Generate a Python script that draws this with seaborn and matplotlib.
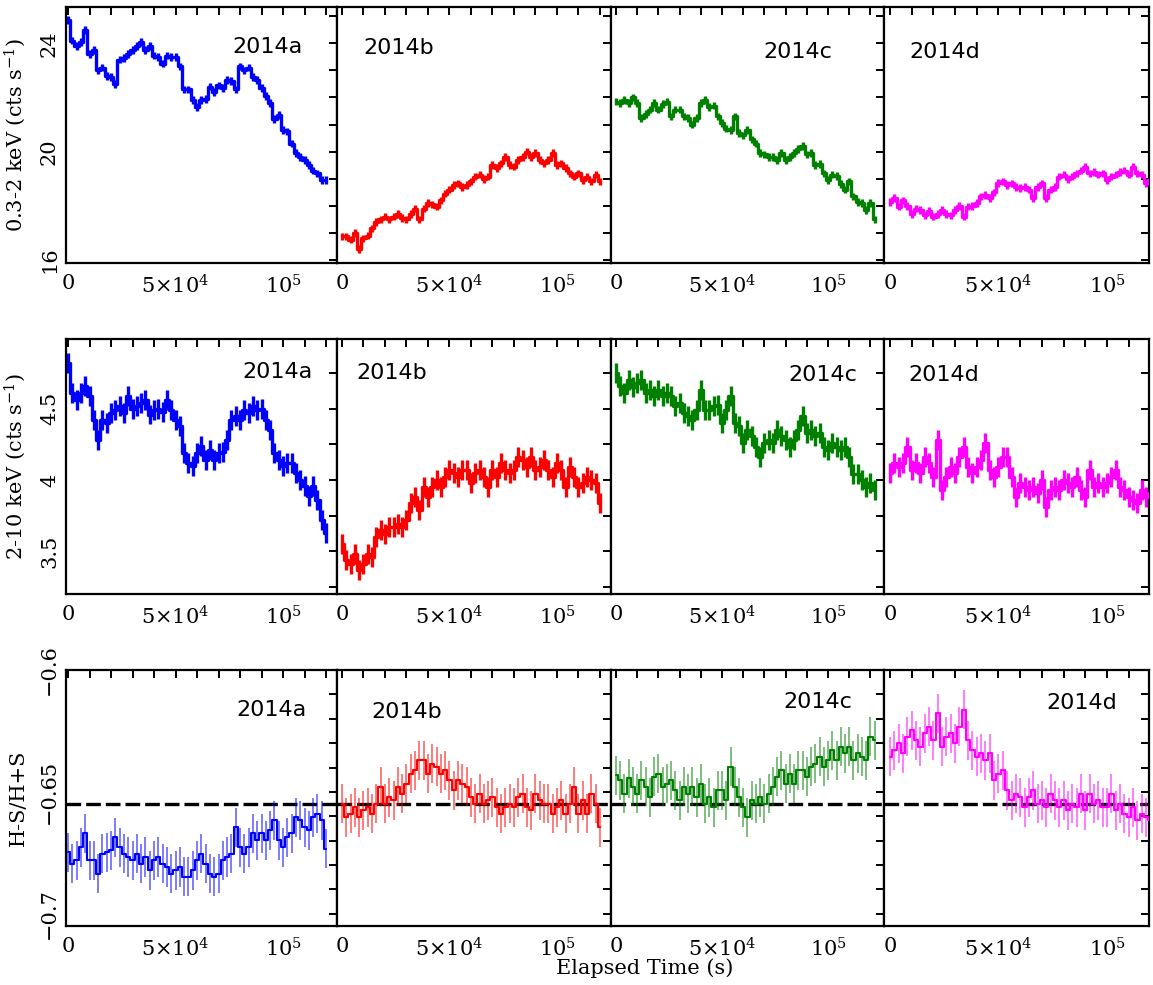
import numpy as np
import pandas as pd
import matplotlib
matplotlib.use("Agg")
import matplotlib.pyplot as plt
import seaborn as sns
from matplotlib.ticker import FixedLocator, MultipleLocator, FuncFormatter

# ---------------------------------------------------------------- data
TBIN = 2000.0  # light-curve bin width (s)

epochs = ["2014a", "2014b", "2014c", "2014d"]
colors = ["#0000ff", "#ff0000", "#008000", "#ff00ff"]

# 0.3-2 keV count rates (cts/s)
soft_a = [24.86, 24.1, 23.9, 24.05, 24.5, 23.6, 23.75, 23.0, 23.1, 22.8,
          22.75, 22.5, 23.4, 23.45, 23.6, 23.75, 23.9, 24.05, 23.75, 23.9,
          23.55, 23.5, 23.25, 23.55, 23.5, 23.5, 23.15, 22.3, 22.3, 21.9,
          21.65, 21.9, 21.95, 22.4, 22.2, 22.45, 22.35, 22.65, 22.6, 22.3,
          23.15, 23.0, 23.1, 22.75, 22.65, 22.35, 22.05, 21.8, 21.2, 21.35,
          20.8, 20.75, 20.3, 19.95, 19.8, 19.7, 19.5, 19.3, 19.2, 18.95,
          18.95]
soft_b = [16.87, 16.87, 16.75, 17.0, 16.4, 16.8, 16.9, 17.17, 17.4, 17.5,
          17.6, 17.5, 17.6, 17.7, 17.55, 17.5, 17.7, 17.9, 17.5, 17.9,
          18.1, 18.05, 17.97, 18.2, 18.45, 18.6, 18.77, 18.83, 18.7, 18.77,
          18.9, 19.08, 19.15, 19.0, 19.08, 19.5, 19.4, 19.57, 19.8, 19.5,
          19.45, 19.7, 19.8, 20.0, 19.8, 19.95, 19.7, 19.57, 19.7, 19.95,
          19.5, 19.57, 19.4, 19.2, 19.08, 19.2, 18.95, 19.08, 18.9, 19.15,
          18.9]
soft_c = [21.85, 21.8, 21.9, 21.8, 22.0, 21.8, 21.25, 21.4, 21.55, 21.8,
          21.55, 21.75, 21.85, 21.3, 21.55, 21.55, 21.3, 21.25, 21.0, 21.25,
          21.8, 21.9, 21.65, 21.7, 21.3, 21.05, 20.85, 20.8, 21.3, 20.7,
          20.6, 20.8, 20.45, 20.3, 19.95, 19.9, 19.8, 19.8, 19.7, 19.95,
          19.7, 19.8, 19.95, 20.1, 20.2, 19.9, 19.95, 19.5, 19.55, 19.2,
          18.95, 19.15, 19.1, 18.8, 18.6, 18.9, 18.35, 18.15, 18.1, 17.85,
          18.1, 17.5]
soft_d = [18.15, 18.3, 17.97, 18.2, 18.0, 17.7, 17.9, 17.85, 17.65, 17.8,
          17.6, 17.7, 17.85, 17.7, 17.65, 17.85, 18.0, 17.6, 17.97, 18.0,
          18.1, 18.35, 18.4, 18.3, 18.5, 18.85, 18.9, 18.77, 18.83, 18.7,
          18.65, 18.7, 18.6, 18.3, 18.7, 18.83, 18.3, 18.6, 18.7, 19.08,
          19.15, 19.0, 19.08, 19.2, 19.3, 19.45, 19.2, 19.25, 19.15, 19.2,
          18.95, 19.08, 19.15, 19.25, 19.3, 19.15, 19.45, 19.2, 19.15, 18.85,
          18.95]

# 2-10 keV count rates (cts/s)
hard_a = [4.82, 4.61, 4.56, 4.61, 4.66, 4.59, 4.42, 4.28, 4.42, 4.40,
          4.47, 4.49, 4.52, 4.47, 4.59, 4.50, 4.52, 4.54, 4.56, 4.46,
          4.49, 4.50, 4.48, 4.56, 4.49, 4.42, 4.38, 4.19, 4.12, 4.10,
          4.19, 4.24, 4.14, 4.21, 4.14, 4.19, 4.20, 4.28, 4.42, 4.45,
          4.42, 4.49, 4.47, 4.52, 4.49, 4.50, 4.42, 4.35, 4.19, 4.14,
          4.10, 4.12, 4.12, 4.05, 4.00, 3.96, 3.89, 3.96, 3.86, 3.72,
          3.63]
hard_b = [3.55, 3.44, 3.41, 3.48, 3.37, 3.41, 3.48, 3.46, 3.60, 3.65,
          3.62, 3.67, 3.67, 3.69, 3.67, 3.72, 3.84, 3.88, 3.79, 3.95,
          3.88, 3.95, 4.00, 3.95, 4.02, 4.07, 4.05, 4.02, 4.07, 4.07,
          3.98, 4.05, 4.07, 4.02, 3.95, 4.07, 4.02, 4.12, 4.07, 4.05,
          4.07, 4.16, 4.14, 4.09, 4.16, 4.07, 4.09, 4.14, 4.07, 4.02,
          4.12, 4.07, 3.95, 4.09, 4.02, 3.95, 3.98, 4.02, 4.00, 3.98,
          3.84]
hard_c = [4.75, 4.66, 4.61, 4.70, 4.65, 4.68, 4.70, 4.61, 4.63, 4.59,
          4.63, 4.59, 4.61, 4.59, 4.52, 4.54, 4.47, 4.45, 4.42, 4.49,
          4.63, 4.49, 4.49, 4.52, 4.53, 4.40, 4.49, 4.59, 4.40, 4.38,
          4.26, 4.35, 4.31, 4.23, 4.16, 4.26, 4.28, 4.26, 4.35, 4.31,
          4.28, 4.23, 4.28, 4.35, 4.45, 4.33, 4.35, 4.31, 4.33, 4.23,
          4.21, 4.26, 4.23, 4.21, 4.23, 4.16, 4.04, 4.04, 4.00, 3.95,
          3.98, 3.93]
hard_d = [4.05, 4.12, 4.09, 4.12, 4.23, 4.07, 4.12, 4.05, 4.16, 4.12,
          4.02, 4.28, 3.93, 4.02, 4.09, 4.05, 4.16, 4.23, 4.09, 4.05,
          4.09, 4.14, 4.26, 4.07, 4.02, 4.09, 4.16, 4.16, 4.02, 3.88,
          3.98, 3.95, 3.93, 3.95, 3.91, 4.00, 3.81, 3.93, 3.95, 3.93,
          4.00, 3.98, 3.95, 4.02, 3.93, 3.88, 4.07, 3.95, 3.98, 3.95,
          3.98, 4.02, 4.07, 3.95, 3.93, 3.88, 3.86, 3.84, 3.93, 3.88,
          3.91]

# hardness ratio (H-S)/(H+S)
hr_a = [-0.6747, -0.6795, -0.678, -0.6726, -0.667, -0.678, -0.678, -0.6836, -0.6753, -0.6747,
        -0.674, -0.6685, -0.6726, -0.6753, -0.6767, -0.678, -0.6753, -0.6795, -0.6767, -0.6822,
        -0.678, -0.6767, -0.6795, -0.6808, -0.6836, -0.6822, -0.6808, -0.6849, -0.6849, -0.6822,
        -0.678, -0.6753, -0.6795, -0.6836, -0.6849, -0.6836, -0.678, -0.6767, -0.6753, -0.6644,
        -0.6726, -0.6753, -0.6726, -0.667, -0.6699, -0.667, -0.6699, -0.6658, -0.6616, -0.6699,
        -0.6726, -0.6685, -0.667, -0.6603, -0.6616, -0.6644, -0.6658, -0.6603, -0.6589, -0.6616,
        -0.6733]
hr_b = [-0.6548, -0.6603, -0.6589, -0.6562, -0.6603, -0.6575, -0.6562, -0.6589, -0.6548, -0.6479,
        -0.6548, -0.6521, -0.6534, -0.6479, -0.6507, -0.6466, -0.6425, -0.6411, -0.637, -0.637,
        -0.6425, -0.6384, -0.6397, -0.6425, -0.6411, -0.6452, -0.6493, -0.6452, -0.6466, -0.6479,
        -0.6521, -0.6548, -0.6507, -0.6548, -0.6534, -0.6521, -0.6562, -0.6589, -0.6562, -0.6548,
        -0.6562, -0.6521, -0.6507, -0.6562, -0.6575, -0.6507, -0.6534, -0.6548, -0.6548, -0.6589,
        -0.6562, -0.6534, -0.6589, -0.6548, -0.6479, -0.6589, -0.6534, -0.6589, -0.6507, -0.6548,
        -0.6644]
hr_c = [-0.6432, -0.6452, -0.6507, -0.6445, -0.6479, -0.6507, -0.6452, -0.6479, -0.6521, -0.6438,
        -0.6425, -0.6479, -0.6466, -0.6452, -0.6493, -0.6534, -0.6479, -0.6507, -0.6479, -0.6521,
        -0.6466, -0.6548, -0.6521, -0.6562, -0.6493, -0.6493, -0.6534, -0.6397, -0.6479, -0.6521,
        -0.6562, -0.6603, -0.6534, -0.6548, -0.6521, -0.6548, -0.6507, -0.6479, -0.6438, -0.6411,
        -0.6466, -0.6425, -0.6466, -0.6411, -0.6411, -0.6438, -0.6397, -0.6384, -0.6356, -0.6397,
        -0.637, -0.6329, -0.637, -0.6315, -0.6342, -0.6315, -0.637, -0.6342, -0.6356, -0.637,
        -0.6274, -0.6288]
hr_d = [-0.6356, -0.6329, -0.6301, -0.6342, -0.6274, -0.6247, -0.6288, -0.6315, -0.626, -0.6233,
        -0.6288, -0.6178, -0.6315, -0.6274, -0.626, -0.6301, -0.6233, -0.6164, -0.6288, -0.6329,
        -0.6356, -0.6342, -0.637, -0.6342, -0.6452, -0.6425, -0.6411, -0.6493, -0.6534, -0.6507,
        -0.6521, -0.6562, -0.6521, -0.6493, -0.6548, -0.6534, -0.6562, -0.6507, -0.6534, -0.6562,
        -0.6534, -0.6575, -0.6548, -0.6562, -0.6507, -0.6575, -0.6507, -0.6548, -0.6534, -0.6562,
        -0.6562, -0.6507, -0.6575, -0.6548, -0.6589, -0.6603, -0.6562, -0.6616, -0.6589, -0.6603,
        -0.6616]

err_soft = 0.14
err_hard = 0.07
err_hr = 0.008
hr_mean = -0.655

x_ticks = [0, 5e4, 1e5]
x_ticklabels = ["0", r"$5{\times}10^{4}$", r"$10^{5}$"]

rows = [
    dict(series=[soft_a, soft_b, soft_c, soft_d], err=err_soft,
         ylim=(15.89, 25.33), major=[16, 20, 24], minor=1.0,
         ylabel=r"0.3-2 keV (cts s$^{-1}$)", hr=False),
    dict(series=[hard_a, hard_b, hard_c, hard_d], err=err_hard,
         ylim=(3.2, 4.99), major=[3.5, 4.0, 4.5], minor=0.25,
         ylabel=r"2-10 keV (cts s$^{-1}$)", hr=False),
    dict(series=[hr_a, hr_b, hr_c, hr_d], err=err_hr,
         ylim=(-0.705, -0.6), major=[-0.7, -0.65, -0.6], minor=0.01,
         ylabel="H-S/H+S", hr=True),
]

# ---------------------------------------------------------------- layout
sns.set_theme(style="white")
plt.rcParams["font.family"] = ["DejaVu Serif"]
plt.rcParams["mathtext.fontset"] = "dejavuserif"
for key in ("text.color", "axes.labelcolor", "xtick.color", "ytick.color"):
    plt.rcParams[key] = "black"

W, H = 1153, 985
fig = plt.figure(figsize=(W / 100, H / 100), dpi=100)

# column (left px, right px, xmin, xmax) and row (top px, bottom px)
cols_geom = [(66, 337, -930, 125100), (337, 610.5, -2300, 124900),
             (610.5, 884, -2600, 126400), (884, 1149, -2760, 119350)]
rows_geom = [(7.3, 263), (339, 594), (670, 926)]

# epoch label centres (px) per row/column
label_pos = [
    [(267, 47), (399, 48), (798, 52), (945, 52)],
    [(277, 372), (392, 373), (823, 375), (944, 375)],
    [(271, 710), (407, 712), (818, 702), (1082, 703)],
]

for r, (row, (top, bot)) in enumerate(zip(rows, rows_geom)):
    for c, (l, rgt, x0, x1) in enumerate(cols_geom):
        ax = fig.add_axes([l / W, 1 - bot / H, (rgt - l) / W, (bot - top) / H])
        vals = np.asarray(row["series"][c], dtype=float)
        t = np.arange(len(vals)) * TBIN
        df = pd.DataFrame({"time": t, "value": vals})
        col = colors[c]

        if row["hr"]:
            ax.axhline(hr_mean, color="black", lw=2.4, dashes=(4.4, 1.5), zorder=1)
            ax.errorbar(df["time"], df["value"], yerr=row["err"], fmt="none",
                        ecolor=col, elinewidth=1.2, alpha=0.6, zorder=2)
            sns.lineplot(data=df, x="time", y="value", ax=ax, color=col,
                         drawstyle="steps-mid", lw=1.5, errorbar=None, zorder=3)
        else:
            ax.errorbar(df["time"], df["value"], yerr=row["err"], fmt="none",
                        ecolor=col, elinewidth=2.4, zorder=2)
            sns.lineplot(data=df, x="time", y="value", ax=ax, color=col,
                         drawstyle="steps-mid", lw=2.4, errorbar=None, zorder=3)

        ax.set_xlim(x0, x1)
        ax.set_ylim(*row["ylim"])
        ax.set_xlabel("")
        ax.set_ylabel("")

        ax.xaxis.set_major_locator(FixedLocator(x_ticks))
        ax.xaxis.set_minor_locator(MultipleLocator(1e4))
        ax.set_xticklabels(x_ticklabels)
        ax.yaxis.set_major_locator(FixedLocator(row["major"]))
        ax.yaxis.set_minor_locator(MultipleLocator(row["minor"]))
        ax.yaxis.set_major_formatter(FuncFormatter(lambda v, p: f"{v:g}".replace("-", "\u2212")))

        ax.tick_params(which="both", direction="in", top=True, right=True,
                       length=6, width=1.4, color="black", labelcolor="black",
                       labelsize=15, pad=7)
        ax.tick_params(axis="x", which="major", pad=8)
        if c == 0:
            for lab in ax.get_yticklabels():
                lab.set_rotation(90)
                lab.set_va("center")
            ax.tick_params(axis="y", pad=5)
            ax.set_ylabel(row["ylabel"], fontsize=15, color="black")
            ax.yaxis.set_label_coords(-0.14, 0.5)
        else:
            ax.tick_params(axis="y", labelleft=False)

        for sp in ax.spines.values():
            sp.set_linewidth(1.6)
            sp.set_color("black")

        lx, ly = label_pos[r][c]
        fig.text(lx / W, 1 - ly / H, epochs[c], ha="center", va="center",
                 fontsize=16, family="DejaVu Sans", color="black")

fig.text(645 / W, 1 - 968 / H, "Elapsed Time (s)", ha="center", va="center",
         fontsize=15, color="black")

fig.savefig("out.png", dpi=100)
